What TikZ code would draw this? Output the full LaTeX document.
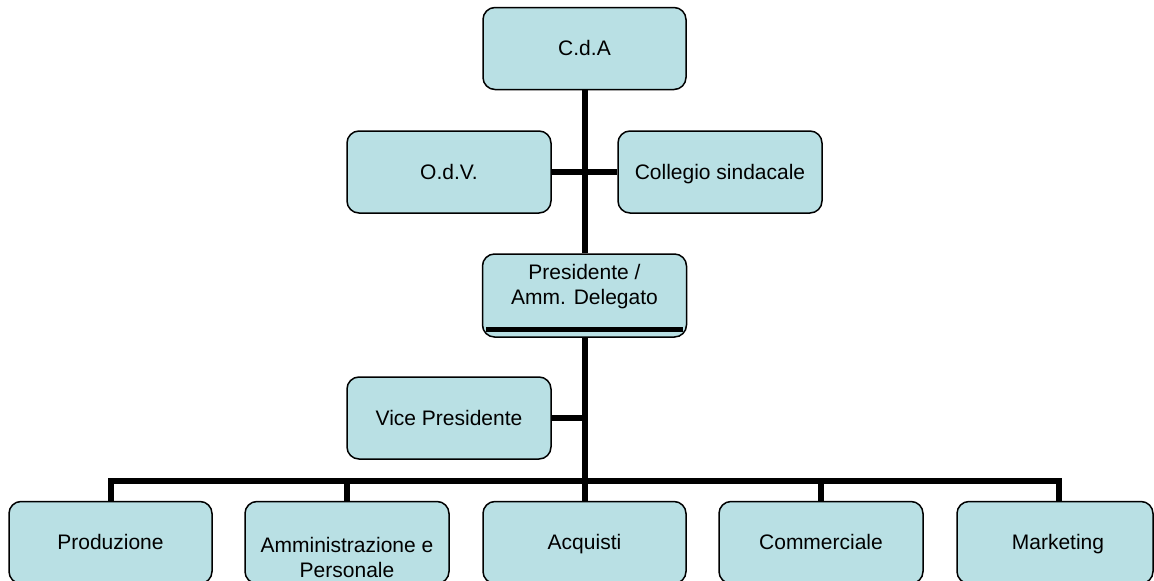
\documentclass[tikz,border=0pt]{standalone}
\usepackage{fontspec}
\setmainfont{Liberation Sans}
\usetikzlibrary{calc}
\definecolor{boxfill}{RGB}{185,224,228}
\tikzset{
  orgbox/.style={draw=black, line width=1.5pt, fill=boxfill, rounded corners=12pt,
    minimum height=82pt, inner sep=0pt, text height=15pt, text depth=0.5pt,
    font=\fontsize{21}{25}\selectfont},
  conn/.style={draw=black, line width=6pt, line join=miter},
  txt/.style={inner sep=0pt, align=center, font=\fontsize{21}{25}\selectfont}
}
\begin{document}
\begin{tikzpicture}[x=1pt,y=-1pt]
\useasboundingbox (0,0) rectangle (1154,581);
\clip (0,0) rectangle (1154,581);
% boxes
\node[orgbox, minimum width=203pt] (cda) at (584.5,48.5) {C.d.A};
\node[orgbox, minimum width=204pt] (odv) at (449,172) {O.d.V.};
\node[orgbox, minimum width=204pt] (cs) at (720,172) {Collegio sindacale};
\node[orgbox, minimum width=204pt, minimum height=83pt] (pres) at (584.5,295.5) {};
\node[txt] (prest) at (584.5,287) {Presidente /\\Amm. Delegato};
\node[orgbox, minimum width=204pt] (vice) at (449,418) {Vice Presidente};
\node[orgbox, minimum width=203pt] (prod) at (110.5,542.5) {Produzione};
\node[orgbox, minimum width=204pt] (amm) at (347,542.5) {};
\node[txt] (ammt) at (347,557) {Amministrazione e\\Personale};
\node[orgbox, minimum width=203pt] (acq) at (584.5,542.5) {Acquisti};
\node[orgbox, minimum width=204pt] (comm) at (821,542.5) {Commerciale};
\node[orgbox, minimum width=196pt] (mkt) at (1055,542.5) {};
\node[orgbox, draw=none, fill=none, minimum width=0pt, minimum height=0pt] (mktt) at (1058,542.5) {Marketing};
% thick bar inside Presidente box
\draw[line width=5pt] ($(pres.south west)+(4.5,-8)$) -- ($(pres.south east)+(-4.5,-8)$);
% coordinates
\coordinate (bus) at (585,481);
\coordinate (mkttop) at (1059,501.5);
% connectors
\draw[conn] (cda.south) -- (cda.south |- pres.north);
\draw[conn] (odv.east) -- (cs.west);
\draw[conn] (pres.south) -- (pres.south |- bus);
\draw[conn] (vice.east) -- (vice.east -| pres.south);
\draw[conn] (prod.north) |- (mkttop |- bus) -- (mkttop);
\draw[conn] (amm.north) -- (amm.north |- bus);
\draw[conn] (acq.north) -- (acq.north |- bus);
\draw[conn] (comm.north) -- (comm.north |- bus);
\end{tikzpicture}
\end{document}
